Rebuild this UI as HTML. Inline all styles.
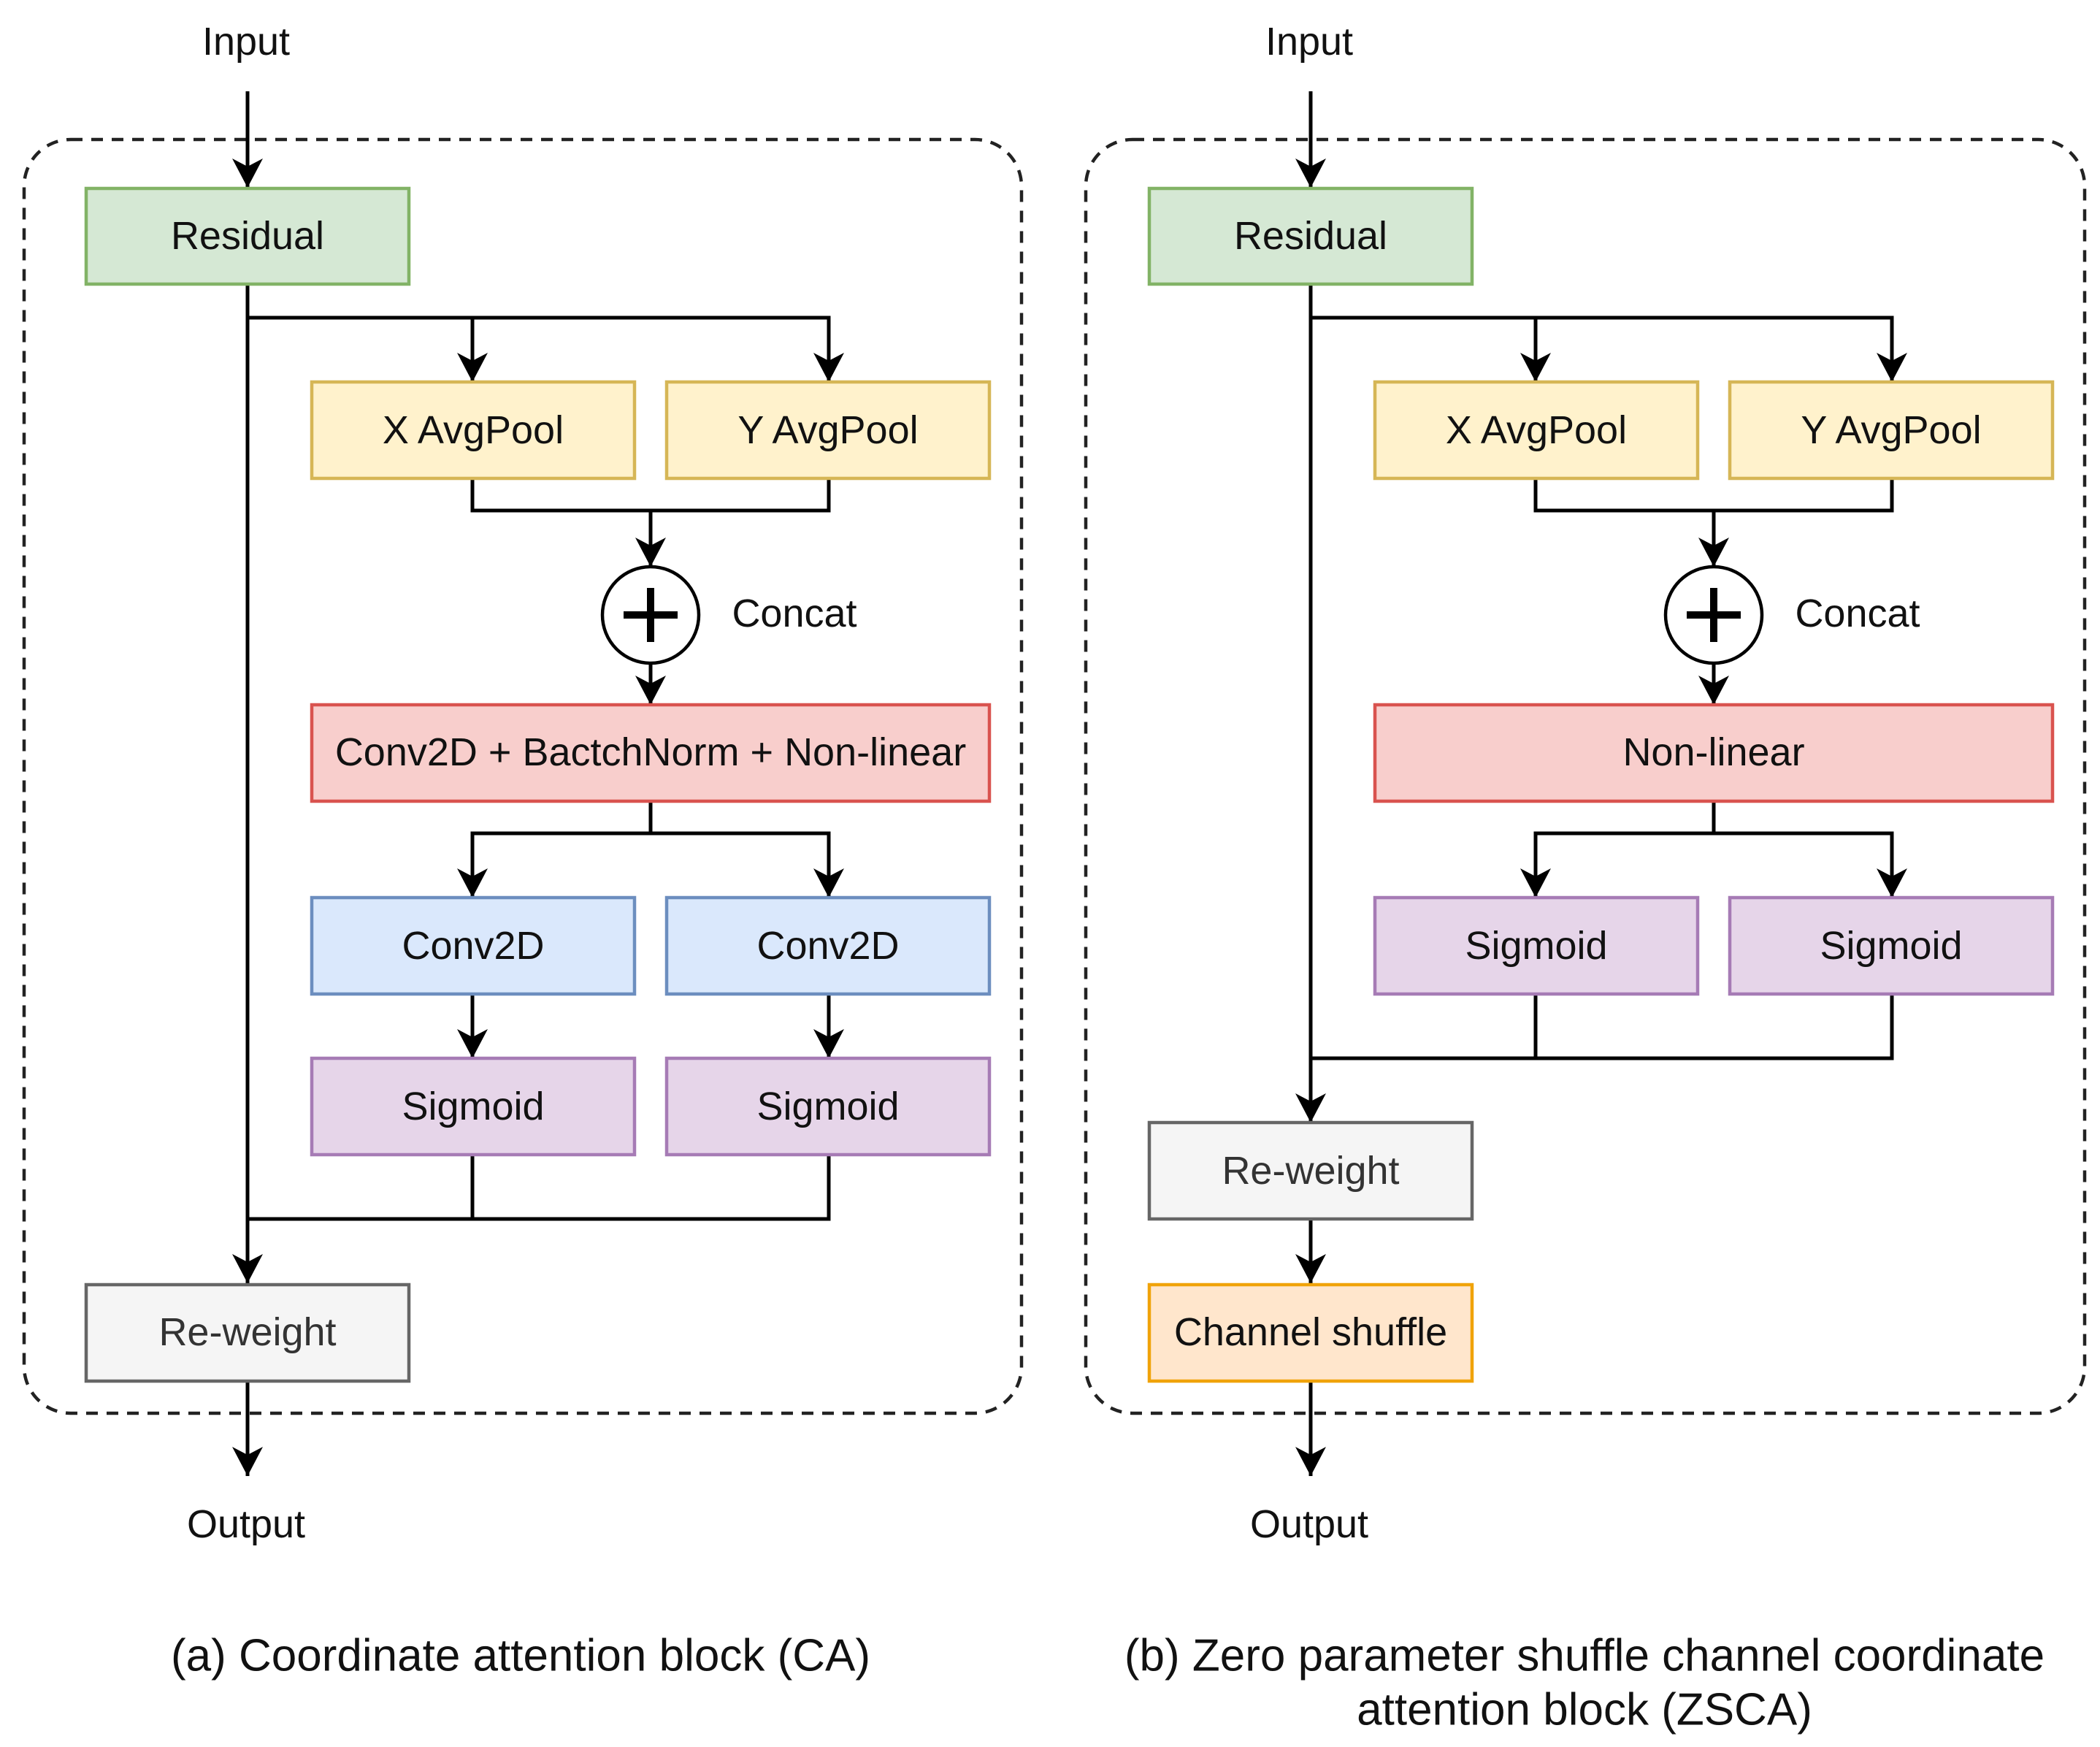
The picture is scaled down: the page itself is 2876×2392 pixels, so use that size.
<!DOCTYPE html>
<html><head><meta charset="utf-8"><style>
html,body{margin:0;padding:0;background:#fff}
svg{display:block}
text{font-family:"Liberation Sans",Arial,sans-serif;font-size:54px;fill:#111;text-anchor:middle;dominant-baseline:central}
.cap{font-size:62px}
</style></head><body>
<svg width="2876" height="2392" viewBox="0 0 2876 2392" xmlns="http://www.w3.org/2000/svg">
<defs>
<g id="ah"><path d="M0,0 L-21,-40 L0,-29 L21,-40 Z" fill="#000"/></g>
</defs>
<g fill="none" stroke="#222" stroke-width="4.5" stroke-dasharray="16,12">
<rect x="33" y="191" width="1366" height="1744" rx="64"/>
<rect x="1487" y="191" width="1368" height="1744" rx="64"/>
</g>

<!-- LEFT -->
<g stroke="#000" stroke-width="5" fill="none">
<path d="M339 125V257"/>
<path d="M339 389V1757"/>
<path d="M339 435H1135V523M647 435V523"/>
<path d="M647 655V699H1135V655M891 699V776"/>
<path d="M891 908V965"/>
<path d="M891 1097V1141M647 1229V1141H1135V1229"/>
<path d="M647 1361V1449M1135 1361V1449"/>
<path d="M647 1581V1669M1135 1581V1669H339"/>
<path d="M339 1889V2021"/>
</g>
<g>
<use href="#ah" x="339" y="257"/>
<use href="#ah" x="647" y="523"/><use href="#ah" x="1135" y="523"/>
<use href="#ah" x="891" y="776"/><use href="#ah" x="891" y="965"/>
<use href="#ah" x="647" y="1229"/><use href="#ah" x="1135" y="1229"/>
<use href="#ah" x="647" y="1449"/><use href="#ah" x="1135" y="1449"/>
<use href="#ah" x="339" y="1757"/><use href="#ah" x="339" y="2021"/>
</g>
<g stroke-width="4.5">
<rect x="118" y="258" width="442" height="131" fill="#d5e8d4" stroke="#82b366"/>
<rect x="427" y="523" width="442" height="132" fill="#fff2cc" stroke="#d6b656"/>
<rect x="913" y="523" width="442" height="132" fill="#fff2cc" stroke="#d6b656"/>
<rect x="427" y="965" width="928" height="132" fill="#f8cecc" stroke="#d9534f"/>
<rect x="427" y="1229" width="442" height="132" fill="#dae8fc" stroke="#6c8ebf"/>
<rect x="913" y="1229" width="442" height="132" fill="#dae8fc" stroke="#6c8ebf"/>
<rect x="427" y="1449" width="442" height="132" fill="#e6d5e9" stroke="#a67bb5"/>
<rect x="913" y="1449" width="442" height="132" fill="#e6d5e9" stroke="#a67bb5"/>
<rect x="118" y="1759" width="442" height="132" fill="#f5f5f5" stroke="#666"/>
<circle cx="891" cy="842" r="66" fill="#fff" stroke="#000"/>
</g>
<path d="M891 805V879M854 842H928" stroke="#000" stroke-width="10"/>
<text x="337" y="57">Input</text>
<text x="339" y="323">Residual</text>
<text x="648" y="589">X AvgPool</text>
<text x="1134" y="589">Y AvgPool</text>
<text x="1088" y="840">Concat</text>
<text x="891" y="1030">Conv2D + BactchNorm + Non-linear</text>
<text x="648" y="1295">Conv2D</text>
<text x="1134" y="1295">Conv2D</text>
<text x="648" y="1515">Sigmoid</text>
<text x="1134" y="1515">Sigmoid</text>
<text x="339" y="1824" style="fill:#333">Re-weight</text>
<text x="337" y="2087">Output</text>
<text x="713" y="2267" class="cap">(a) Coordinate attention block (CA)</text>

<!-- RIGHT -->
<g transform="translate(1456,0)">
<g stroke="#000" stroke-width="5" fill="none">
<path d="M339 125V257"/>
<path d="M339 389V1537"/>
<path d="M339 435H1135V523M647 435V523"/>
<path d="M647 655V699H1135V655M891 699V776"/>
<path d="M891 908V965"/>
<path d="M891 1097V1141M647 1229V1141H1135V1229"/>
<path d="M647 1361V1449M1135 1361V1449H339"/>
<path d="M339 1669V1757"/>
<path d="M339 1889V2021"/>
</g>
<g>
<use href="#ah" x="339" y="257"/>
<use href="#ah" x="647" y="523"/><use href="#ah" x="1135" y="523"/>
<use href="#ah" x="891" y="776"/><use href="#ah" x="891" y="965"/>
<use href="#ah" x="647" y="1229"/><use href="#ah" x="1135" y="1229"/>
<use href="#ah" x="339" y="1537"/>
<use href="#ah" x="339" y="1757"/><use href="#ah" x="339" y="2021"/>
</g>
<g stroke-width="4.5">
<rect x="118" y="258" width="442" height="131" fill="#d5e8d4" stroke="#82b366"/>
<rect x="427" y="523" width="442" height="132" fill="#fff2cc" stroke="#d6b656"/>
<rect x="913" y="523" width="442" height="132" fill="#fff2cc" stroke="#d6b656"/>
<rect x="427" y="965" width="928" height="132" fill="#f8cecc" stroke="#d9534f"/>
<rect x="427" y="1229" width="442" height="132" fill="#e6d5e9" stroke="#a67bb5"/>
<rect x="913" y="1229" width="442" height="132" fill="#e6d5e9" stroke="#a67bb5"/>
<rect x="118" y="1537" width="442" height="132" fill="#f5f5f5" stroke="#666"/>
<rect x="118" y="1759" width="442" height="132" fill="#ffe6cc" stroke="#f0a30a"/>
<circle cx="891" cy="842" r="66" fill="#fff" stroke="#000"/>
</g>
<path d="M891 805V879M854 842H928" stroke="#000" stroke-width="10"/>
<text x="337" y="57">Input</text>
<text x="339" y="323">Residual</text>
<text x="648" y="589">X AvgPool</text>
<text x="1134" y="589">Y AvgPool</text>
<text x="1088" y="840">Concat</text>
<text x="891" y="1030">Non-linear</text>
<text x="648" y="1295">Sigmoid</text>
<text x="1134" y="1295">Sigmoid</text>
<text x="339" y="1603" style="fill:#333">Re-weight</text>
<text x="339" y="1824">Channel shuffle</text>
<text x="337" y="2087">Output</text>
<text x="714" y="2267" class="cap">(b) Zero parameter shuffle channel coordinate</text>
<text x="714" y="2341" class="cap">attention block (ZSCA)</text>
</g>
</svg>
</body></html>
